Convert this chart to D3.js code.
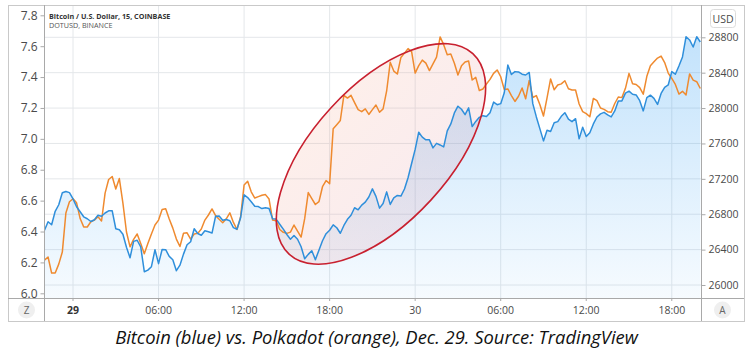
<!DOCTYPE html>
<html><head><meta charset="utf-8">
<script src="https://cdn.jsdelivr.net/npm/d3@7"></script>
<style>
html,body{margin:0;padding:0;background:#fff;}
svg{display:block;font-family:"Open Sans",sans-serif;}
</style></head><body>
<svg id="chart" width="750" height="357"></svg>
<script>
// ---- data: 15-minute bars, Dec 28 22:00 UTC onward ----
const startTime = Date.UTC(2020, 11, 28, 22, 0);
const stepMinutes = 15;
const btcUsd = [
26619,26715,26681,26833,26907,27042,27057,27044,26974,26884,
26828,26771,26749,26718,26737,26789,26777,26814,26839,26839,
26636,26624,26574,26427,26308,26493,26506,26432,26150,26168,
26207,26399,26241,26401,26399,26323,26286,26162,26224,26349,
26455,26489,26636,26582,26562,26613,26602,26587,26777,26779,
26732,26741,26726,26649,26630,26757,27020,26988,26941,26890,
26887,26864,26873,26864,26749,26745,26687,26631,26571,26518,
26560,26517,26432,26297,26346,26388,26286,26393,26500,26580,
26619,26680,26647,26585,26673,26742,26788,26873,26850,26903,
26937,26995,27087,27002,26869,26921,27053,26911,26986,27012,
27005,27085,27212,27373,27533,27727,27671,27641,27641,27550,
27601,27583,27561,27742,27821,27945,28021,27987,27926,28002,
27791,27849,27895,27914,27904,27948,28067,28038,28050,28173,
28487,28380,28412,28409,28383,28374,28403,28050,27900,27765,
27629,27749,27736,27834,27847,27907,27948,27875,27847,27880,
27652,27784,27678,27720,27821,27899,27934,27952,27923,27900,
27968,28081,28081,28169,28191,28156,28149,28084,27968,28118,
28146,28110,28041,28165,28235,28261,28412,28383,28476,28578,
28807,28770,28690,28807,28747];
const dotUsd = [
6.215,6.235,6.131,6.131,6.189,6.267,6.520,6.593,6.612,6.586,
6.484,6.430,6.429,6.463,6.474,6.496,6.468,6.649,6.737,6.756,
6.675,6.743,6.584,6.397,6.301,6.349,6.384,6.322,6.256,6.322,
6.384,6.442,6.474,6.542,6.547,6.481,6.422,6.351,6.303,6.389,
6.392,6.351,6.384,6.388,6.416,6.474,6.507,6.546,6.503,6.479,
6.457,6.482,6.521,6.459,6.413,6.492,6.701,6.725,6.657,6.617,
6.626,6.635,6.639,6.610,6.474,6.470,6.413,6.395,6.388,6.396,
6.442,6.402,6.364,6.483,6.652,6.613,6.575,6.593,6.690,6.730,
6.710,7.066,7.092,7.119,7.281,7.264,7.282,7.235,7.189,7.176,
7.194,7.158,7.189,7.219,7.172,7.194,7.310,7.496,7.439,7.420,
7.527,7.555,7.584,7.565,7.426,7.474,7.510,7.490,7.442,7.485,
7.529,7.660,7.610,7.545,7.549,7.489,7.413,7.474,7.498,7.504,
7.381,7.398,7.313,7.323,7.355,7.385,7.424,7.446,7.402,7.319,
7.323,7.280,7.242,7.276,7.329,7.259,7.378,7.268,7.280,7.221,
7.148,7.265,7.388,7.318,7.349,7.356,7.376,7.324,7.316,7.316,
7.226,7.176,7.163,7.143,7.262,7.248,7.200,7.191,7.176,7.172,
7.229,7.271,7.267,7.327,7.424,7.357,7.352,7.332,7.289,7.405,
7.474,7.499,7.523,7.536,7.494,7.426,7.391,7.352,7.290,7.308,
7.284,7.420,7.380,7.370,7.326];
const leftTicks = [6.0, 6.2, 6.4, 6.6, 6.8, 7.0, 7.2, 7.4, 7.6, 7.8];
const rightTicks = [26000, 26400, 26800, 27200, 27600, 28000, 28400, 28800];
const timeTickLabels = ["29", "06:00", "12:00", "18:00", "30", "06:00", "12:00", "18:00"];
const boldTimeLabels = ["29"];
const legendTitle = "Bitcoin / U.S. Dollar, 15, COINBASE";
const legendCompare = "DOTUSD, BINANCE";
const currencyLabel = "USD";
const caption = "Bitcoin (blue) vs. Polkadot (orange), Dec. 29. Source: TradingView";
// highlight annotation (centre in data units)
const highlightCenterTime = Date.UTC(2020, 11, 29, 21, 36);
const highlightCenterUsd = 27482;

// ---- layout ----
const frame = {l: 8, t: 5, r: 744, b: 321};
const plot = {l: 44, t: 5, r: 701, b: 298};
const blue = "#2f8fdb", orange = "#ef8a2f", grid = "#e4e7ea", axisCol = "#a9a9a9", txt = "#4a4a4a";

const svg = d3.select("#chart");
const times = btcUsd.map((_, i) => new Date(startTime + i * stepMinutes * 60000));
const x = d3.scaleUtc()
  .domain([times[0], times[times.length - 1]])
  .range([44.5, 700.3]);
const yL = d3.scaleLinear().domain([6.0, 7.8]).range([293.3, 15.3]);
const yR = d3.scaleLinear().domain([26000, 28800]).range([285, 37.3]);

const defs = svg.append("defs");
defs.append("clipPath").attr("id", "clip").append("rect")
  .attr("x", plot.l).attr("y", plot.t).attr("width", plot.r - plot.l).attr("height", plot.b - plot.t);
const grad = defs.append("linearGradient").attr("id", "areaGrad")
  .attr("gradientUnits", "userSpaceOnUse").attr("x1", 0).attr("x2", 0).attr("y1", plot.t).attr("y2", plot.b);
grad.append("stop").attr("offset", "0%").attr("stop-color", "#2196f3").attr("stop-opacity", 0.30);
grad.append("stop").attr("offset", "100%").attr("stop-color", "#2196f3").attr("stop-opacity", 0.04);
const eg = defs.append("linearGradient").attr("id", "ellGrad").attr("x1", 0).attr("x2", 0).attr("y1", 0).attr("y2", 1);
eg.append("stop").attr("offset", "0%").attr("stop-color", "#f5a58c").attr("stop-opacity", 0.18);
eg.append("stop").attr("offset", "100%").attr("stop-color", "#dd8c9e").attr("stop-opacity", 0.17);

// gridlines
const timeTicks = x.ticks(d3.utcHour.every(6));
svg.append("g").selectAll("line").data(rightTicks).join("line")
  .attr("x1", plot.l).attr("x2", plot.r).attr("y1", d => yR(d)).attr("y2", d => yR(d))
  .attr("stroke", grid).attr("stroke-width", 1);
svg.append("g").selectAll("line").data(timeTicks).join("line")
  .attr("x1", d => x(d)).attr("x2", d => x(d)).attr("y1", plot.t).attr("y2", plot.b)
  .attr("stroke", grid).attr("stroke-width", 1);

const g = svg.append("g").attr("clip-path", "url(#clip)");
// area under BTC
g.append("path").datum(btcUsd)
  .attr("d", d3.area().x((d, i) => x(times[i])).y0(plot.b).y1(d => yR(d)))
  .attr("fill", "url(#areaGrad)");

// highlight ellipse fill
const ex = x(new Date(highlightCenterTime)), ey = yR(highlightCenterUsd);
g.append("ellipse").attr("cx", 0).attr("cy", 0).attr("rx", 136).attr("ry", 68)
  .attr("transform", `translate(${ex},${ey}) rotate(-47.5)`)
  .attr("fill", "url(#ellGrad)");

// lines
g.append("path").datum(dotUsd)
  .attr("d", d3.line().x((d, i) => x(times[i])).y(d => yL(d)))
  .attr("fill", "none").attr("stroke", orange).attr("stroke-width", 1.5).attr("stroke-linejoin", "round");
g.append("path").datum(btcUsd)
  .attr("d", d3.line().x((d, i) => x(times[i])).y(d => yR(d)))
  .attr("fill", "none").attr("stroke", blue).attr("stroke-width", 1.5).attr("stroke-linejoin", "round");

// ellipse stroke
g.append("ellipse").attr("cx", 0).attr("cy", 0).attr("rx", 136).attr("ry", 68)
  .attr("transform", `translate(${ex},${ey}) rotate(-47.5)`)
  .attr("fill", "none").attr("stroke", "#c8202f").attr("stroke-width", 1.6);

// frame
svg.append("rect").attr("x", frame.l + 0.5).attr("y", frame.t + 0.5)
  .attr("width", frame.r - frame.l).attr("height", frame.b - frame.t)
  .attr("fill", "none").attr("stroke", "#c9c9c9");
svg.append("line").attr("x1", frame.l).attr("x2", frame.r).attr("y1", plot.b + 0.5).attr("y2", plot.b + 0.5).attr("stroke", axisCol);
svg.append("line").attr("x1", plot.l + 0.5).attr("x2", plot.l + 0.5).attr("y1", plot.t).attr("y2", frame.b).attr("stroke", axisCol);
svg.append("line").attr("x1", plot.r + 0.5).attr("x2", plot.r + 0.5).attr("y1", plot.t).attr("y2", frame.b).attr("stroke", axisCol);

// left axis
const la = d3.axisLeft(yL).tickValues(leftTicks).tickFormat(d3.format(".1f")).tickSize(4).tickPadding(3);
const lag = svg.append("g").attr("transform", `translate(${plot.l + 0.5},0)`).call(la);
lag.select(".domain").remove();
lag.selectAll("line").attr("stroke", axisCol);
lag.selectAll("text").attr("fill", txt).attr("font-size", 12).attr("font-family", "Open Sans");

// right axis
const ra = d3.axisRight(yR).tickValues(rightTicks).tickFormat(d3.format("d")).tickSize(4).tickPadding(3);
const rag = svg.append("g").attr("transform", `translate(${plot.r + 0.5},0)`).call(ra);
rag.select(".domain").remove();
rag.selectAll("line").attr("stroke", axisCol);
rag.selectAll("text").attr("fill", txt).attr("font-size", 10.5).attr("font-family", "Open Sans");

// bottom axis labels
svg.append("g").selectAll("text").data(timeTicks).join("text")
  .attr("x", d => x(d)).attr("y", 314)
  .attr("text-anchor", "middle").attr("font-size", 10.5)
  .attr("font-weight", (d, i) => boldTimeLabels.includes(timeTickLabels[i]) ? 700 : 400)
  .attr("fill", (d, i) => boldTimeLabels.includes(timeTickLabels[i]) ? "#333" : txt)
  .text((d, i) => timeTickLabels[i]);
svg.append("g").selectAll("line").data(timeTicks).join("line")
  .attr("x1", d => x(d)).attr("x2", d => x(d)).attr("y1", plot.b).attr("y2", plot.b + 3)
  .attr("stroke", axisCol);

// Z and A buttons
[["Z", 26.5], ["A", 722.5]].forEach(([t, cx]) => {
  svg.append("circle").attr("cx", cx).attr("cy", 310).attr("r", 8.5).attr("fill", "#efefef");
  svg.append("text").attr("x", cx).attr("y", 313.5).attr("text-anchor", "middle")
    .attr("font-size", 10).attr("fill", "#666").text(t);
});

// USD box
svg.append("rect").attr("x", 710.5).attr("y", 9.5).attr("width", 25).attr("height", 18).attr("rx", 3)
  .attr("fill", "#fff").attr("stroke", "#dcdcdc");
svg.append("text").attr("x", 723).attr("y", 22.5).attr("text-anchor", "middle")
  .attr("font-size", 10.5).attr("fill", txt).text(currencyLabel);

// legend
svg.append("text").attr("x", 49).attr("y", 18.5).attr("font-size", 7.2).attr("font-weight", 700)
  .attr("fill", "#333").text(legendTitle);
svg.append("text").attr("x", 49).attr("y", 27.8).attr("font-size", 7.2)
  .attr("fill", "#555").text(legendCompare);

// caption
svg.append("text").attr("x", 376.5).attr("y", 344).attr("text-anchor", "middle")
  .attr("font-size", 18.4).attr("font-style", "italic").attr("fill", "#111").text(caption);
</script>
</body></html>
